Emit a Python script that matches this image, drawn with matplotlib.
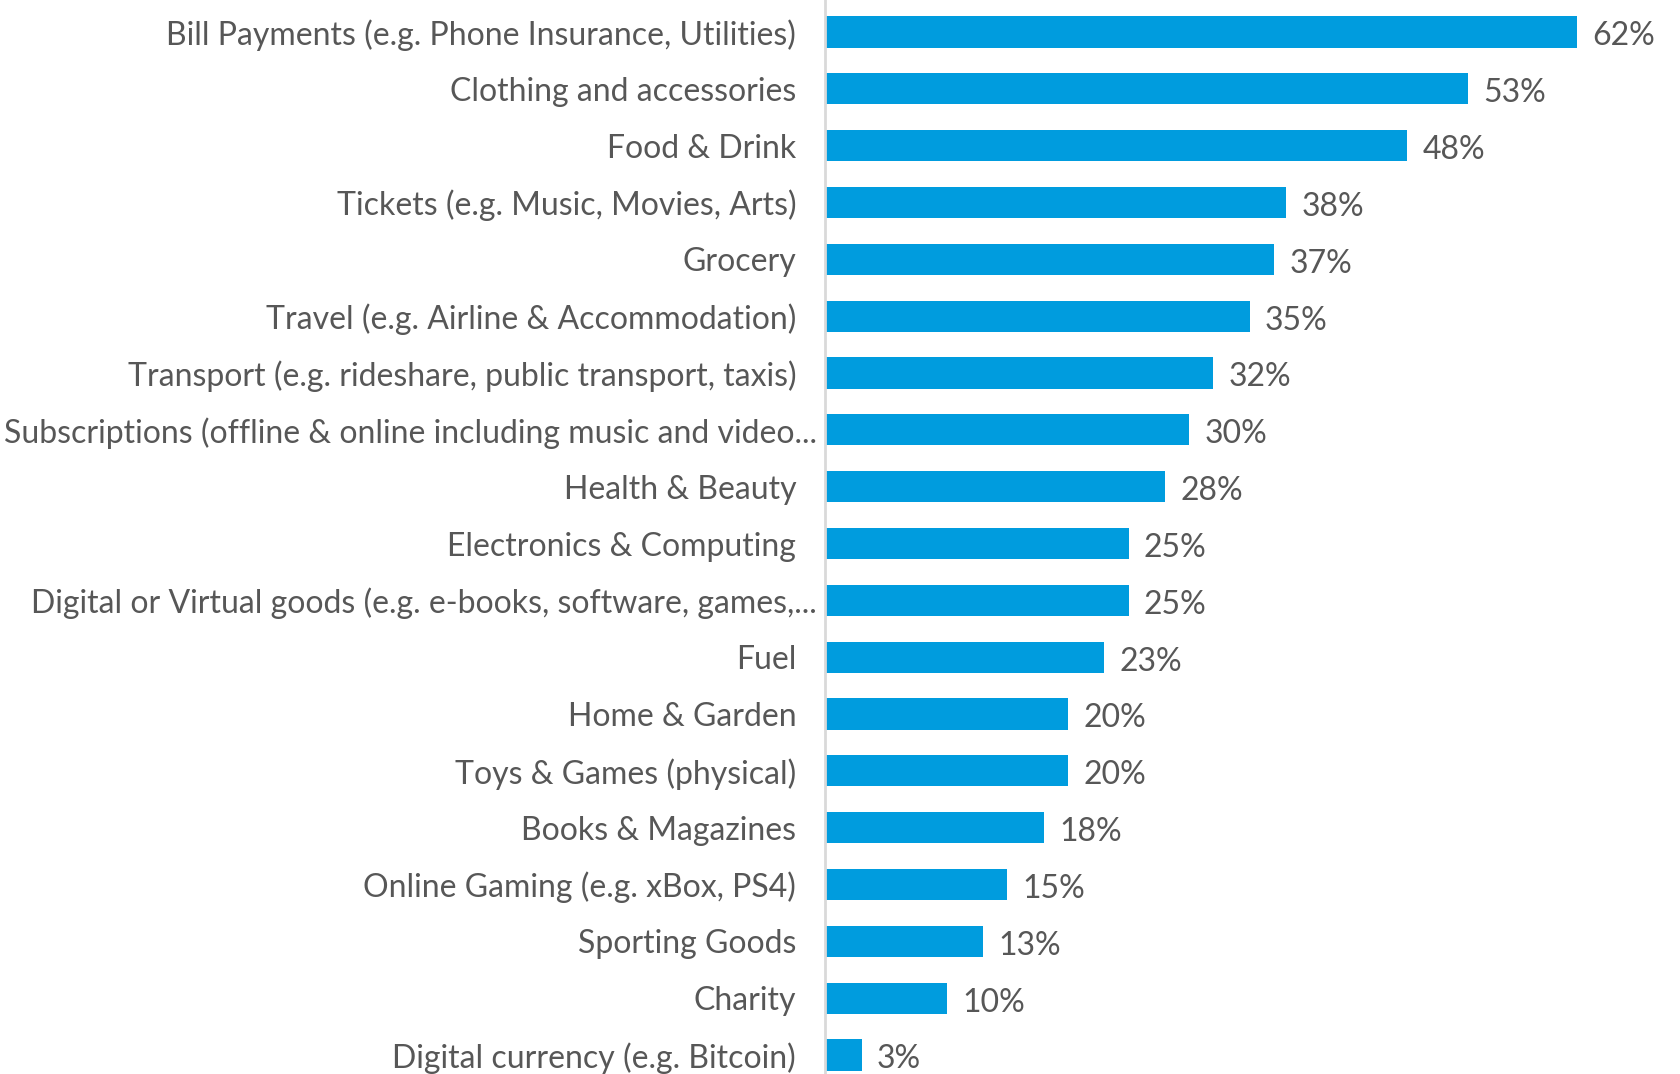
import matplotlib.pyplot as plt

categories = [
    'Bill Payments (e.g. Phone Insurance, Utilities)',
    'Clothing and accessories',
    'Food & Drink',
    'Tickets (e.g. Music, Movies, Arts)',
    'Grocery',
    'Travel (e.g. Airline & Accommodation)',
    'Transport (e.g. rideshare, public transport, taxis)',
    'Subscriptions (offline & online including music and video...',
    'Health & Beauty',
    'Electronics & Computing',
    'Digital or Virtual goods (e.g. e-books, software, games,...',
    'Fuel',
    'Home & Garden',
    'Toys & Games (physical)',
    'Books & Magazines',
    'Online Gaming (e.g. xBox, PS4)',
    'Sporting Goods',
    'Charity',
    'Digital currency (e.g. Bitcoin)',
]
values = [62, 53, 48, 38, 37, 35, 32, 30, 28, 25, 25, 23, 20, 20, 18, 15, 13, 10, 3]

plt.rcParams['font.family'] = ['Lato', 'DejaVu Sans']
grey = '#575757'
fsize = 23

fig = plt.figure(figsize=(16.81, 10.74), dpi=100)
ax = fig.add_axes([0.491, 0.0, 0.505, 1.0])

pos = list(range(len(categories)))
ax.barh(pos, values, height=0.55, color='#009CDE')

for p, v in zip(pos, values):
    ax.annotate(f'{v}%', (v, p), xytext=(11, -1), textcoords='offset points',
                va='center_baseline', ha='left', fontsize=fsize, color=grey)

# category labels; the cut-off ones sit closer to the axis
for p, c in zip(pos, categories):
    off = -6 if c.endswith('...') else -21
    ax.annotate(c, (0, p), xytext=(off, 0), textcoords='offset points',
                va='center_baseline', ha='right', fontsize=fsize, color=grey,
                annotation_clip=False)

ax.set_yticks([])
ax.set_xticks([])
ax.set_xlim(0, 70)
ax.set_ylim(18.334, -0.563)

for s in ['top', 'right', 'bottom']:
    ax.spines[s].set_visible(False)
ax.spines['left'].set_color('#d9d9d9')
ax.spines['left'].set_linewidth(2)

fig.savefig('out.png', dpi=100)
